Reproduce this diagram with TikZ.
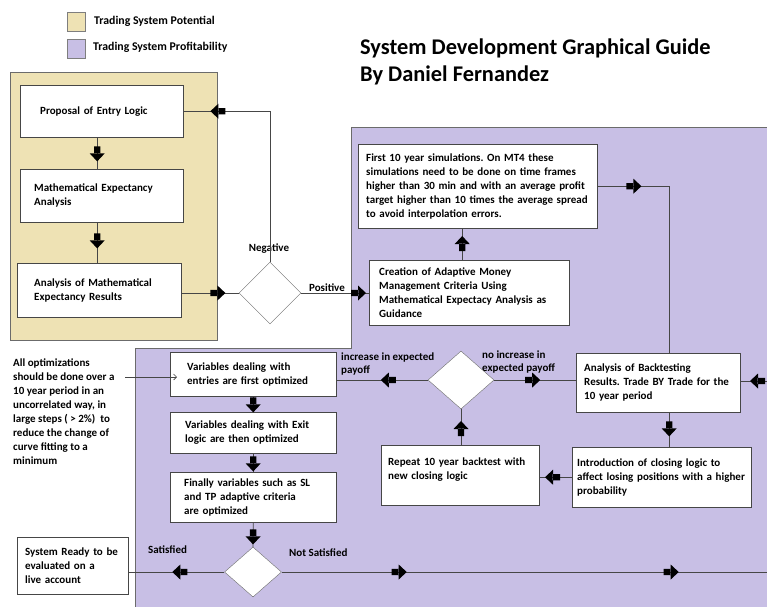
\documentclass[tikz,border=0pt]{standalone}
\usepackage{fontspec}
\setmainfont{Carlito}
\usepackage{tikz}
\usetikzlibrary{arrows.meta,shapes.geometric,decorations.markings,calc}
\definecolor{tanbg}{RGB}{238,226,180}
\definecolor{lilac}{RGB}{200,191,229}
\definecolor{edge}{RGB}{70,70,70}
\frenchspacing
\newcommand{\blockhead}{\fill[black] (-7pt,-3.2pt) rectangle (0.5pt,3.2pt) (0pt,-7.5pt) -- (8pt,0pt) -- (0pt,7.5pt) -- cycle;}
\tikzset{
  box/.style={draw=edge, fill=white, anchor=north west, align=left, inner ysep=2pt, font=\fontsize{11}{14}\selectfont\bfseries},
  dec/.style={draw=edge!80, fill=white, shape=diamond, inner sep=0pt},
  link/.style={draw=edge, line width=0.8pt},
  blk/.style={postaction={decorate,decoration={markings,mark=at position #1 with {\blockhead}}}},
  lbl/.style={font=\fontsize{11}{13}\selectfont\bfseries, align=left, inner sep=0pt}
}

\begin{document}
\begin{tikzpicture}[x=1pt,y=-1pt]
\useasboundingbox (0,0) rectangle (767,606);
\fill[white] (0,0) rectangle (767,606);
\draw[draw=edge!70, fill=tanbg] (67,12) rectangle (85,31);
\draw[draw=edge!70, fill=lilac] (67,39) rectangle (85,58);
\node[lbl, anchor=west, font=\fontsize{11.8}{13}\selectfont\bfseries] (legA) at (94,21) {Trading System Potential};
\node[lbl, anchor=west, font=\fontsize{11.8}{13}\selectfont\bfseries] (legB) at (93,47) {Trading System Profitability};
\node[anchor=north west, align=left, inner sep=0pt, font=\fontsize{22.4}{27}\selectfont\bfseries] (title) at (360,39) {System Development Graphical Guide\\By Daniel Fernandez};
\draw[draw=edge!80, fill=tanbg] (10,72) rectangle (217,340);
\begin{scope}
\clip (0,0) rectangle (767,606);
\draw[draw=edge!80, fill=lilac] (351,127) -- (780,127) -- (780,620) -- (135,620) -- (135,348) -- (351,348) -- cycle;
\end{scope}
\node[box, minimum width=163pt, minimum height=52pt, text width=123pt, inner xsep=20pt] (prop) at (20,85) {Proposal of Entry Logic};
\node[box, minimum width=163pt, minimum height=53pt, text width=135pt, inner xsep=14pt] (mexp) at (20,169) {Mathematical Expectancy\\Analysis};
\node[box, minimum width=164pt, minimum height=54pt, text width=130pt, inner xsep=17pt] (amer) at (17,263) {Analysis of Mathematical\\Expectancy Results};
\node[box, minimum width=239pt, minimum height=84pt, text width=223pt, inner xsep=8pt] (first) at (358,144) {First 10 year simulations. On MT4 these\\simulations need to be done on time frames\\higher than 30 min and with an average profit\\target higher than 10 times the average spread\\to avoid interpolation errors.};
\node[box, minimum width=200pt, minimum height=65pt, text width=180pt, inner xsep=10pt] (cream) at (369,260) {Creation of Adaptive Money\\Management Criteria Using\\Mathematical Expectacy Analysis as\\Guidance};
\node[box, minimum width=164pt, minimum height=59pt, text width=148pt, inner xsep=8pt] (an) at (576,353) {Analysis of Backtesting\\Results. Trade BY Trade for the\\10 year period};
\node[box, minimum width=179pt, minimum height=60pt, text width=169pt, inner xsep=5pt] (intro) at (572,447) {Introduction of closing logic to\\affect losing positions with a higher\\probability};
\node[box, minimum width=158pt, minimum height=60pt, text width=144pt, inner xsep=7pt] (rep) at (381,445) {Repeat 10 year backtest with\\new closing logic\\ \mbox{}};
\node[box, minimum width=166pt, minimum height=44pt, text width=132pt, inner xsep=17pt] (ve) at (170,352) {Variables dealing with\\entries are first optimized};
\node[box, minimum width=166pt, minimum height=41pt, text width=136pt, inner xsep=15pt] (vx) at (170,412) {Variables dealing with Exit\\logic are then optimized};
\node[box, minimum width=166pt, minimum height=50pt, text width=138pt, inner xsep=14pt] (fin) at (170,472) {Finally variables such as SL\\and TP adaptive criteria\\are optimized};
\node[box, minimum width=111pt, minimum height=57pt, text width=95pt, inner xsep=8pt] (sr) at (17,537) {System Ready to be\\evaluated on a\\live account};
\node[dec, minimum width=62pt, minimum height=62pt] (d1) at (270,293) {};
\node[dec, minimum width=66pt, minimum height=58pt] (d2) at (461,380) {};
\node[dec, minimum width=57pt, minimum height=50pt] (d3) at (253,572) {};
\node[lbl] (neg) at (269,249) {Negative};
\node[lbl, anchor=south] (pos) at (327,292) {Positive};
\node[lbl, anchor=south west] (incr) at (341,375) {increase in expected\\payoff};
\node[lbl, anchor=south west] (noincr) at (482,373) {no increase in\\expected payoff};
\node[lbl, anchor=west] (sat) at (148,550) {Satisfied};
\node[lbl, anchor=west] (nsat) at (289,553) {Not Satisfied};
\node[lbl, anchor=north west, font=\fontsize{11}{14}\selectfont\bfseries] (note) at (13,359) {All optimizations\\should be done over a\\10 year period in an\\uncorrelated way, in\\large steps ( > 2\%)\ \ to\\reduce the change of\\curve fitting to a\\minimum};
\coordinate (inR) at (767,381);
\coordinate (outR) at (767,572);
\coordinate (tip) at (177,377);
\draw[link, blk=16pt] ([xshift=-4.5pt]prop.south) -- ([xshift=-4.5pt]prop.south |- mexp.north);
\draw[link, blk=18pt] ([xshift=-4.5pt]mexp.south) -- ([xshift=-4.5pt]mexp.south |- amer.north);
\draw[link, blk=36pt] (amer.east |- d1.west) -- (d1.west);
\draw[link, blk=-35pt] (d1.north) |- (prop.east);
\draw[link, blk=-11pt] (d1.east) -- (d1.east -| cream.west);
\draw[link, blk=16pt] ([xshift=-7pt]cream.north) -- ([xshift=-7pt]cream.north |- first.south);
\draw[link, blk=36pt] (first.east) -| ([xshift=11pt]an.north);
\draw[link, blk=9pt] (inR) -- (inR -| an.east);
\draw[link, blk=38pt] (d2.east) -- (d2.east -| an.west);
\draw[link, blk=39pt] (d2.west) -- (d2.west -| ve.east);
\draw[link, blk=16pt] ([xshift=11pt]an.south) -- ([xshift=11pt]an.south |- intro.north);
\draw[link, blk=19pt] (intro.west) -- (intro.west -| rep.east);
\draw[link, blk=16pt] (rep.north -| d2.south) -- (d2.south);
\draw[link, blk=8pt] (ve.south) -- (vx.north);
\draw[link, blk=10pt] (vx.south) -- (fin.north);
\draw[link, blk=14pt] (fin.south) -- (d3.north);
\draw[link, blk=44pt] (d3.west) -- (d3.west -| sr.east);
\draw[link, blk=117pt, blk=389pt] (d3.east) -- (outR);
\draw[draw=edge, line width=0.6pt, -{Straight Barb[length=3pt]}] (125,377) -- (tip);
\end{tikzpicture}
\end{document}
